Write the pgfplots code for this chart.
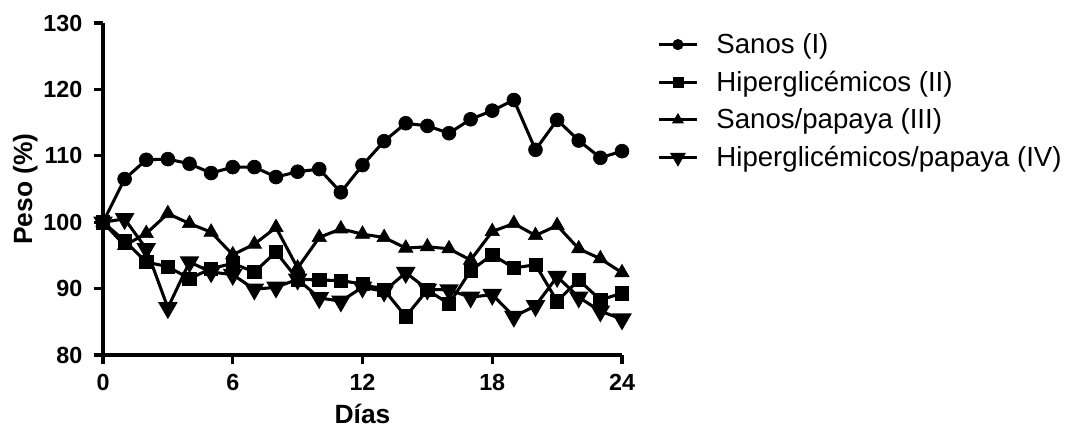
\documentclass[border=0pt]{standalone}
\usepackage{pgfplots}
\pgfplotsset{compat=1.18}
\usepackage{fontspec}
\setmainfont{Liberation Sans}
\begin{document}
\begin{tikzpicture}
\useasboundingbox (0pt,0pt) rectangle (806.25pt,321pt);
\begin{axis}[
  at={(77.25pt,54.75pt)}, anchor=south west,
  scale only axis, width=389.25pt, height=249pt,
  xmin=0, xmax=24, ymin=80, ymax=130,
  axis lines=left, axis line style={-, line width=2.5pt},
  clip=false,
  xtick={0,6,12,18,24}, ytick={80,90,...,130},
  tick align=outside, major tick length=7pt,
  every tick/.style={line width=2.5pt, black},
  /pgf/number format/assume math mode=true,
  ticklabel style={font=\fontsize{17.5}{20}\selectfont\bfseries},
  yticklabel style={xshift=-5pt},
  xticklabel style={yshift=-4pt},
  label style={font=\fontsize{19.8}{23}\selectfont\bfseries},
  xlabel={Días}, ylabel={Peso (\%)},
  xlabel style={yshift=-3pt},
  ylabel style={yshift=-2.5pt},
  every axis plot/.append style={black, line width=2.3pt, mark options={solid, fill=black, line width=0.5pt}},
  legend style={draw=none, fill=none, at={(1.06,0.985)}, anchor=north west,
    font=\fontsize{20.7}{24}\selectfont, row sep=7.6pt, cells={anchor=west}},
  legend image code/.code={\draw[#1, mark repeat=2, mark phase=2, every mark/.append style={scale=0.75}] plot coordinates {(0pt,0pt) (14.25pt,0pt) (28.5pt,0pt)};
    \path (40pt,0pt);},
]
\addplot[mark=*, mark size=5.2pt] coordinates {
(0,100) (1,106.5) (2,109.4) (3,109.5) (4,108.8) (5,107.4) (6,108.3) (7,108.3) (8,106.8) (9,107.6) (10,108.0) (11,104.5) (12,108.6) (13,112.2) (14,114.9) (15,114.5) (16,113.4) (17,115.5) (18,116.8) (19,118.4) (20,110.9) (21,115.4) (22,112.3) (23,109.7) (24,110.7)};
\addlegendentry{Sanos (I)}
\addplot[mark=square*, mark size=5.0pt] coordinates {
(0,100) (1,97.2) (2,94.0) (3,93.3) (4,91.5) (5,93.0) (6,93.8) (7,92.5) (8,95.5) (9,91.4) (10,91.3) (11,91.2) (12,90.7) (13,89.8) (14,85.8) (15,89.8) (16,87.7) (17,92.7) (18,95.1) (19,93.1) (20,93.6) (21,88.1) (22,91.3) (23,88.3) (24,89.3)};
\addlegendentry{Hiperglicémicos (II)}
\addplot[mark=triangle*, mark size=6.2pt] coordinates {
(0,100) (1,96.5) (2,98.3) (3,101.3) (4,99.8) (5,98.5) (6,95.1) (7,96.7) (8,99.2) (9,93.1) (10,97.7) (11,99.0) (12,98.2) (13,97.7) (14,96.1) (15,96.3) (16,96.0) (17,94.3) (18,98.6) (19,99.8) (20,98.0) (21,99.5) (22,96.0) (23,94.5) (24,92.4)};
\addlegendentry{Sanos/papaya (III)}
\addplot[mark=triangle*, mark size=6.2pt, mark options={rotate=180}] coordinates {
(0,100) (1,100.5) (2,96.0) (3,87.1) (4,94.0) (5,92.5) (6,92.1) (7,89.9) (8,90.2) (9,91.4) (10,88.6) (11,88.1) (12,90.2) (13,89.6) (14,92.4) (15,89.9) (16,89.8) (17,88.7) (18,89.1) (19,85.8) (20,87.4) (21,91.8) (22,88.7) (23,86.6) (24,85.4)};
\addlegendentry{Hiperglicémicos/papaya (IV)}
\end{axis}
\end{tikzpicture}
\end{document}
